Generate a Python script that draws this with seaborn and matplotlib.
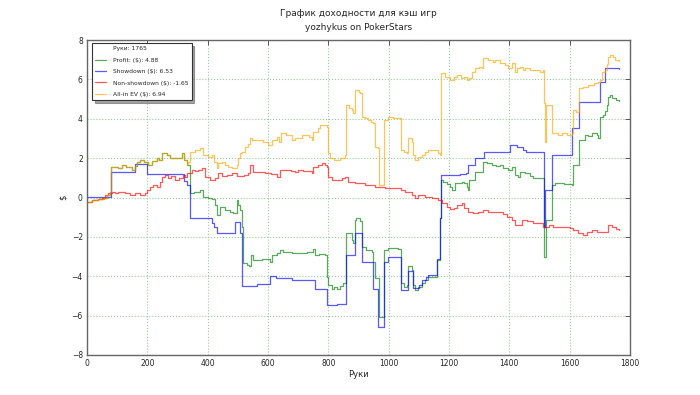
import pandas as pd
import matplotlib
matplotlib.use("Agg")
import matplotlib.pyplot as plt
from matplotlib.lines import Line2D
import seaborn as sns

TOTAL_HANDS = 1765

# (hand, cumulative $), drawn as steps
profit_pts = [
    (0, -0.21), (16, -0.14), (38, -0.10), (55, 0.00), (65, 0.13), (75, 0.30), (80, 1.57),
    (104, 1.50), (115, 1.65), (130, 1.57), (148, 1.42), (160, 1.60), (165, 1.82), (176, 1.90),
    (190, 1.80), (203, 1.65), (215, 1.85), (231, 1.99), (237, 1.90), (248, 2.24), (265, 2.15),
    (275, 1.99), (290, 2.00), (303, 1.99), (315, 2.24), (322, 1.90), (330, 1.65), (343, 0.21),
    (355, 0.30), (375, 0.40), (386, 0.04), (400, 0.00), (413, -0.10), (424, -0.38), (432, -0.89),
    (441, -0.50), (458, -0.63), (474, -0.72), (485, -0.80), (496, -0.13), (502, -0.38),
    (507, -0.63), (513, -1.48), (518, -3.34), (530, -3.43), (538, -3.50), (543, -2.92),
    (551, -3.17), (580, -3.13), (607, -3.30), (612, -2.92), (630, -2.84), (640, -2.67),
    (650, -2.75), (680, -2.80), (706, -2.84), (730, -2.75), (750, -2.62), (755, -2.92),
    (770, -2.88), (789, -2.94), (795, -4.02), (800, -4.45), (811, -4.65), (820, -4.55),
    (830, -4.65), (840, -4.50), (850, -4.35), (858, -1.82), (877, -2.15), (883, -2.30),
    (888, -1.14), (893, -1.06), (905, -1.20), (910, -2.50), (925, -2.67), (944, -2.75),
    (949, -3.26), (955, -4.10), (968, -6.05), (986, -2.67), (999, -2.58), (1030, -2.62),
    (1040, -4.36), (1050, -4.53), (1060, -4.45), (1065, -3.48), (1076, -3.70), (1082, -4.45),
    (1087, -4.70), (1098, -4.53), (1109, -4.36), (1120, -4.20), (1131, -4.06), (1161, -3.17),
    (1169, -1.04), (1173, 0.89), (1180, 0.80), (1192, 0.70), (1203, 0.55), (1209, 0.38),
    (1220, 0.72), (1242, 0.80), (1250, 0.72), (1259, 0.55), (1264, 0.38), (1266, 0.89),
    (1286, 1.31), (1314, 1.82), (1325, 1.74), (1341, 1.65), (1355, 1.60), (1369, 1.65),
    (1380, 1.50), (1397, 1.40), (1408, 1.57), (1419, 1.14), (1428, 1.05), (1435, 1.31),
    (1452, 1.25), (1469, 1.10), (1479, 0.97), (1516, -3.00), (1522, -1.14), (1542, 0.63),
    (1552, 0.72), (1580, 0.68), (1607, 0.63), (1612, 1.65), (1631, 2.92), (1651, 3.17),
    (1660, 3.10), (1673, 3.30), (1690, 3.17), (1695, 3.00), (1701, 4.10), (1710, 4.20),
    (1716, 4.38), (1723, 4.70), (1728, 5.12), (1734, 5.20), (1739, 5.03), (1752, 4.95),
    (1765, 4.88),
]

showdown_pts = [
    (0, 0.05), (80, 1.30), (159, 1.68), (199, 1.18), (322, 0.85), (330, 0.62), (343, -1.05),
    (414, -1.30), (420, -1.50), (431, -1.80), (490, -1.26), (507, -1.80), (514, -4.50),
    (564, -4.40), (606, -4.00), (627, -4.10), (680, -4.20), (756, -4.65), (795, -5.45),
    (829, -5.40), (858, -2.94), (888, -1.79), (910, -3.26), (949, -4.65), (964, -6.56),
    (985, -3.26), (999, -3.04), (1040, -4.70), (1065, -3.73), (1082, -4.60), (1100, -4.45),
    (1110, -4.20), (1125, -4.05), (1131, -3.95), (1161, -3.10), (1169, -1.05), (1173, 1.14),
    (1236, 1.20), (1255, 1.26), (1263, 1.65), (1286, 2.02), (1317, 2.29), (1402, 2.67),
    (1424, 2.59), (1445, 2.41), (1456, 2.29), (1516, -1.50), (1519, 0.38), (1540, 2.16),
    (1607, 3.51), (1631, 4.83), (1701, 5.88), (1716, 6.56), (1765, 6.53),
]

nonsd_pts = [
    (0, -0.21), (16, -0.15), (38, -0.10), (50, -0.05), (60, 0.13), (70, 0.22), (82, 0.30),
    (93, 0.22), (104, 0.30), (126, 0.22), (143, 0.13), (159, 0.22), (176, 0.13), (192, 0.22),
    (198, 0.38), (209, 0.55), (220, 0.63), (231, 0.55), (242, 0.80), (248, 1.05), (258, 1.14),
    (270, 0.97), (280, 1.10), (292, 0.89), (305, 0.97), (319, 1.14), (325, 1.05), (330, 1.23),
    (347, 1.40), (358, 1.35), (369, 1.40), (380, 1.48), (391, 1.06), (408, 0.89), (424, 0.97),
    (435, 1.23), (446, 1.10), (463, 1.14), (480, 1.23), (496, 1.10), (520, 1.14), (535, 1.23),
    (540, 1.65), (551, 1.31), (575, 1.31), (590, 1.23), (610, 1.18), (629, 1.06), (640, 1.40),
    (660, 1.40), (675, 1.35), (690, 1.31), (700, 1.40), (715, 1.35), (730, 1.35), (745, 1.23),
    (750, 1.57), (765, 1.65), (778, 1.74), (788, 1.65), (795, 1.57), (798, 1.06), (811, 0.89),
    (835, 0.89), (845, 0.97), (855, 1.06), (866, 0.80), (890, 0.72), (910, 0.72), (922, 0.63),
    (955, 0.55), (988, 0.47), (1020, 0.47), (1040, 0.38), (1054, 0.30), (1076, 0.13),
    (1087, -0.04), (1098, 0.13), (1120, 0.04), (1143, -0.04), (1165, -0.13), (1176, -0.30),
    (1192, -0.47), (1203, -0.60), (1215, -0.55), (1226, -0.38), (1242, -0.30), (1250, -0.55),
    (1264, -0.72), (1281, -0.80), (1297, -0.72), (1314, -0.63), (1330, -0.75), (1347, -0.72),
    (1365, -0.75), (1380, -0.85), (1391, -0.97), (1408, -1.14), (1419, -1.40), (1435, -1.40),
    (1441, -1.14), (1460, -1.20), (1479, -1.31), (1500, -1.31), (1513, -1.48), (1530, -1.40),
    (1546, -1.48), (1565, -1.52), (1579, -1.48), (1600, -1.55), (1612, -1.65), (1629, -1.82),
    (1645, -1.88), (1656, -1.74), (1675, -1.65), (1690, -1.74), (1710, -1.74), (1728, -1.40),
    (1739, -1.48), (1752, -1.60), (1765, -1.65),
]

allin_pts = [
    (0, -0.21), (16, -0.14), (38, -0.10), (55, 0.00), (65, 0.13), (75, 0.30), (80, 1.57),
    (104, 1.50), (115, 1.65), (130, 1.57), (148, 1.42), (160, 1.60), (165, 1.82), (176, 1.90),
    (190, 1.80), (203, 1.65), (215, 1.85), (231, 1.99), (237, 1.90), (248, 2.24), (265, 2.15),
    (275, 1.99), (290, 2.00), (303, 1.99), (315, 2.24), (322, 1.90), (330, 1.65), (336, 1.82),
    (341, 2.33), (358, 2.41), (375, 2.50), (386, 2.15), (400, 2.07), (413, 2.15), (420, 1.82),
    (430, 1.48), (435, 1.74), (446, 1.82), (458, 1.65), (468, 1.57), (480, 1.48), (497, 1.65),
    (502, 2.00), (507, 2.24), (515, 2.33), (524, 2.58), (535, 2.70), (540, 3.00), (548, 2.90),
    (557, 2.92), (584, 2.84), (590, 2.83), (601, 2.67), (612, 2.92), (629, 3.09), (636, 2.83),
    (643, 3.26), (660, 3.17), (679, 2.92), (690, 3.00), (712, 3.17), (735, 3.09), (745, 2.92),
    (750, 3.34), (765, 3.51), (772, 3.68), (795, 3.60), (798, 2.24), (806, 1.99), (820, 1.90),
    (839, 1.99), (855, 2.16), (859, 4.70), (870, 4.55), (877, 4.44), (883, 4.28), (888, 5.46),
    (900, 5.38), (905, 5.30), (910, 4.10), (921, 4.02), (932, 3.94), (940, 3.85), (949, 3.76),
    (955, 2.58), (966, 2.50), (968, 0.63), (985, 3.94), (999, 4.10), (1015, 4.02), (1038, 4.02),
    (1040, 2.41), (1050, 2.33), (1060, 2.24), (1065, 3.00), (1076, 2.83), (1082, 2.16),
    (1087, 1.90), (1098, 2.07), (1109, 2.16), (1120, 2.33), (1130, 2.41), (1148, 2.41),
    (1165, 2.24), (1170, 2.16), (1173, 6.31), (1187, 6.14), (1203, 5.97), (1215, 6.14),
    (1226, 6.22), (1240, 6.05), (1250, 6.14), (1259, 5.97), (1265, 6.05), (1275, 6.39),
    (1286, 6.56), (1300, 6.65), (1309, 6.56), (1314, 7.07), (1330, 6.98), (1345, 6.90),
    (1353, 6.98), (1370, 6.82), (1386, 6.73), (1397, 6.56), (1408, 6.82), (1419, 6.39),
    (1425, 6.56), (1435, 6.65), (1445, 6.48), (1452, 6.56), (1470, 6.48), (1485, 6.48),
    (1502, 6.39), (1512, 6.48), (1516, 4.78), (1518, 2.83), (1521, 4.70), (1540, 4.70),
    (1543, 3.26), (1560, 3.17), (1574, 3.26), (1590, 3.17), (1607, 3.26), (1610, 4.44),
    (1620, 4.36), (1629, 4.36), (1631, 5.55), (1645, 5.63), (1662, 5.70), (1680, 5.80),
    (1695, 5.88), (1700, 5.97), (1706, 6.39), (1716, 6.48), (1723, 6.80), (1728, 7.15),
    (1734, 7.24), (1745, 7.15), (1750, 7.00), (1765, 6.94),
]

series_names = ["Profit", "Showdown", "Non-showdown", "All-in EV"]
legend_labels = ["Profit: (\\$): 4.88", "Showdown (\\$): 6.53",
                 "Non-showdown (\\$): -1.65", "All-in EV (\\$): 6.94"]
colors = ["#008000", "#0000ff", "#ff0000", "#ffa500"]


def main():
    parts = []
    for name, pts in zip(series_names, [profit_pts, showdown_pts, nonsd_pts, allin_pts]):
        part = pd.DataFrame(pts, columns=["hands", "usd"])
        part["series"] = name
        parts.append(part)
    df = pd.concat(parts, ignore_index=True)

    sns.set_theme(style="white")
    plt.rcParams["font.family"] = ["DejaVu Sans"]

    fig = plt.figure(figsize=(7, 3.95), dpi=100)
    ax = fig.add_axes([0.1243, 0.1013, 0.7757, 0.7974])

    palette = dict(zip(series_names, colors))
    sns.lineplot(data=df, x="hands", y="usd", hue="series", hue_order=series_names,
                 palette=palette, estimator=None, drawstyle="steps-post",
                 linewidth=0.9, alpha=0.65, legend=False, ax=ax)

    ax.set_xlim(0, 1800)
    ax.set_ylim(-8, 8)
    ax.set_xticks(range(0, 1801, 200))
    ax.set_yticks(range(-8, 9, 2))
    ax.set_yticklabels([str(v).replace("-", "\u2212") for v in range(-8, 9, 2)])
    ax.grid(True, color="#9ccc9c", linestyle=":", linewidth=0.8)
    ax.tick_params(direction="in", length=3.5, width=0.7, labelsize=5.5, color="#555555",
                   top=True, right=True, pad=3)
    for sp in ax.spines.values():
        sp.set_color("#666666")
        sp.set_linewidth(1.0)

    ax.set_xlabel("Руки", fontsize=6, labelpad=1)
    ax.set_ylabel("\\$", fontsize=6, labelpad=3)
    ax.set_title("График доходности для кэш игр\nyozhykus on PokerStars", fontsize=6.5,
                 pad=7.5, linespacing=1.7)

    handles = [Line2D([], [], color="none")]
    for c in colors:
        handles.append(Line2D([], [], color=c, alpha=0.65, linewidth=0.9))
    labels = ["Руки: %d" % TOTAL_HANDS] + legend_labels
    leg = ax.legend(handles, labels, loc="upper left", bbox_to_anchor=(0.0092, 0.9905),
                    fontsize=4.3, frameon=True, fancybox=False, shadow=True,
                    handlelength=1.8, handletextpad=1.2, borderaxespad=0,
                    labelspacing=1.05, borderpad=0.5)
    leg.get_frame().set_edgecolor("#333333")
    leg.get_frame().set_linewidth(0.8)

    fig.savefig("out.png", dpi=100)
    plt.close(fig)


if __name__ == "__main__":
    main()
